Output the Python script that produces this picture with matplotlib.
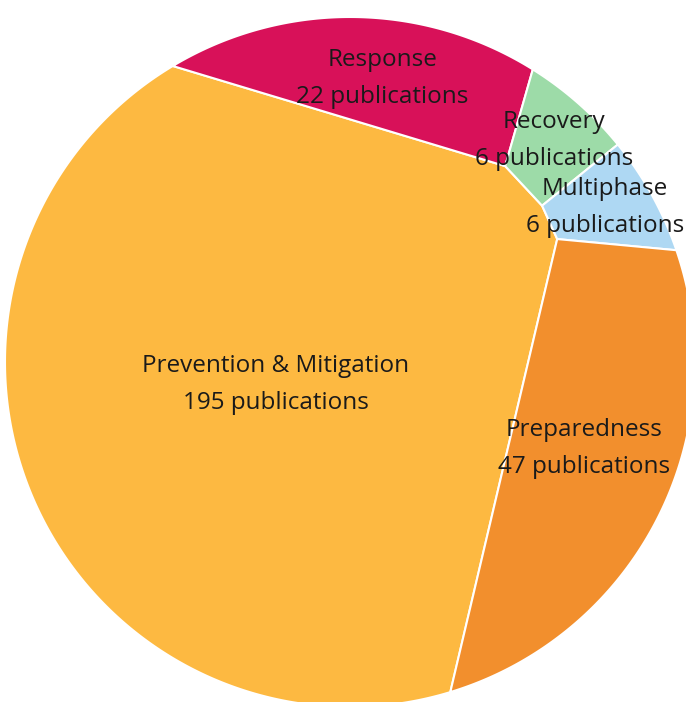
import matplotlib.pyplot as plt
import numpy as np
from matplotlib.patches import Polygon

phases = ["Prevention & Mitigation", "Response", "Recovery", "Multiphase", "Preparedness"]
counts = [195, 22, 6, 6, 47]
colors = ["#FDB941", "#D81159", "#9DDBA8", "#AED8F3", "#F28F2D"]

# voronoi treemap layout: fixed sites in a unit circle, weights fitted to the counts
sites = np.array([[-0.29, -0.11], [-0.04, 0.72], [0.45, 0.58], [0.66, 0.32], [0.60, -0.32]])


def clip(poly, normal, offset):
    # keep the part of a convex polygon where normal . x <= offset
    f = poly @ normal - offset
    nxt = np.roll(poly, -1, axis=0)
    fn = np.roll(f, -1)
    inside = f <= 0
    cross = inside != (fn <= 0)
    with np.errstate(divide="ignore", invalid="ignore"):
        t = np.where(cross, f / (f - fn), 0.0)
    pts = poly + t[:, None] * (nxt - poly)
    stacked = np.stack([poly, pts], axis=1).reshape(-1, 2)
    mask = np.stack([inside, cross], axis=1).reshape(-1)
    return stacked[mask]


def area(poly):
    if len(poly) < 3:
        return 0.0
    x, y = poly[:, 0], poly[:, 1]
    return 0.5 * abs(np.dot(x, np.roll(y, -1)) - np.dot(y, np.roll(x, -1)))


def centroid(poly):
    x, y = poly[:, 0], poly[:, 1]
    xn, yn = np.roll(x, -1), np.roll(y, -1)
    cr = x * yn - xn * y
    a = cr.sum() / 2
    return np.array([((x + xn) * cr).sum(), ((y + yn) * cr).sum()]) / (6 * a)


theta = np.linspace(0, 2 * np.pi, 721)[:-1]
circle = np.c_[np.cos(theta), np.sin(theta)]


def power_cells(w):
    out = []
    for i in range(len(sites)):
        poly = circle
        for j in range(len(sites)):
            if i == j:
                continue
            n = 2 * (sites[j] - sites[i])
            c = sites[j] @ sites[j] - sites[i] @ sites[i] - w[j] + w[i]
            poly = clip(poly, n, c)
            if len(poly) == 0:
                break
        out.append(poly)
    return out


target = np.array(counts) / sum(counts) * area(circle)
w = np.zeros(len(sites))
for _ in range(3000):
    polys = power_cells(w)
    w += 0.5 * (target - np.array([area(p) for p in polys]))
polys = power_cells(w)

fig = plt.figure(figsize=(6.86, 7.02), dpi=100)
ax = fig.add_axes([0, 0, 1, 1])
ax.set_xlim(-350 / 345, 336 / 345)
ax.set_ylim(-340 / 345, 362 / 345)
ax.set_aspect("equal")
ax.axis("off")

labels = []
for poly, col, name, n in zip(polys, colors, phases, counts):
    ax.add_patch(Polygon(poly, closed=True, facecolor=col, edgecolor="white", linewidth=1.5))
    cx, cy = centroid(poly)
    labels.append(ax.text(cx, cy, f"{name}\n{n} publications", ha="center", va="center",
                          fontsize=17.5, color="#1a1a1a", linespacing=1.72,
                          family="Open Sans"))

# nudge labels that run past the right edge back inside
fig.canvas.draw()
renderer = fig.canvas.get_renderer()
for t in labels:
    bb = t.get_window_extent(renderer)
    over = bb.x1 - (fig.bbox.width - 2)
    if over > 0:
        t.set_x(t.get_position()[0] - over / 345)

fig.savefig("out.png", dpi=100)
